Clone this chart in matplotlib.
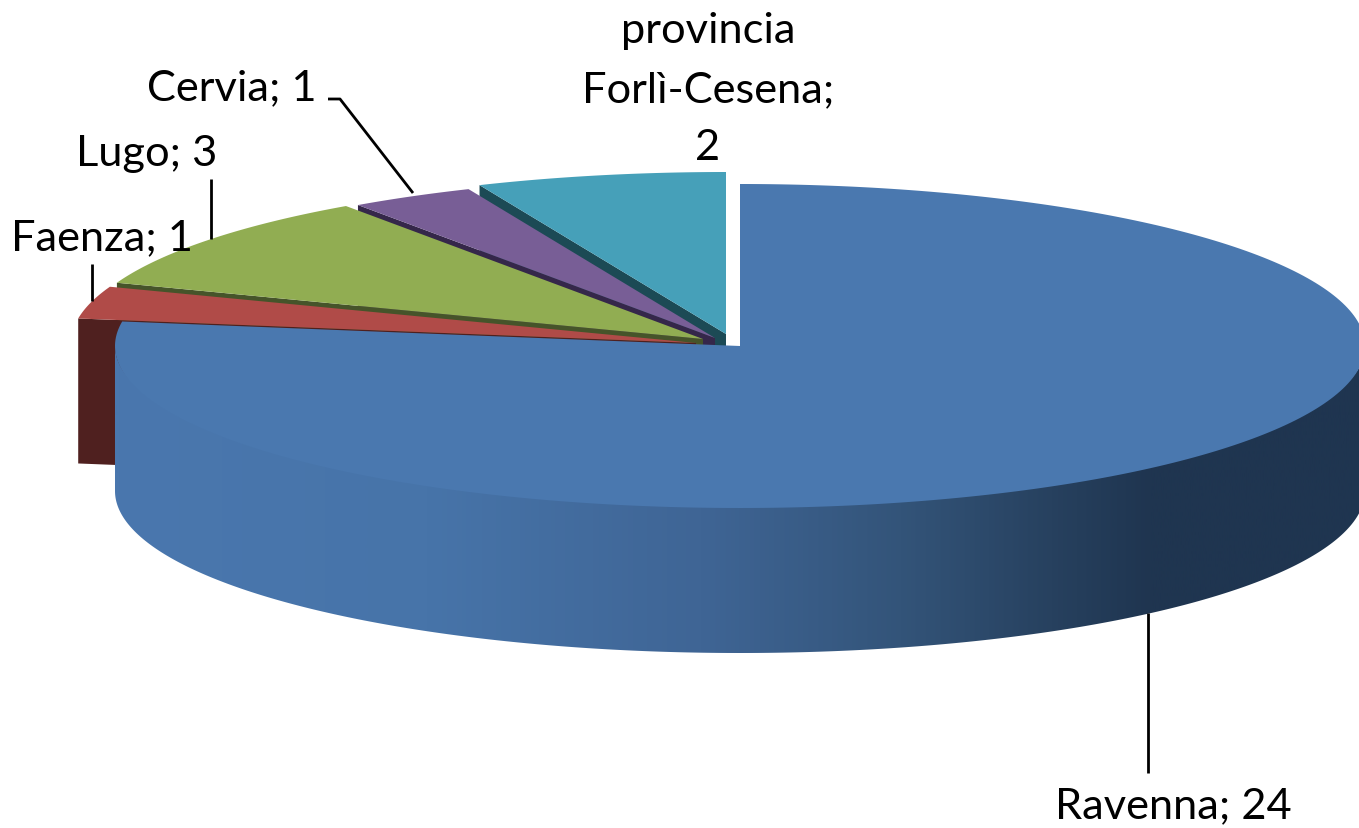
# encoding: utf-8

import numpy as np
import matplotlib
matplotlib.use('Agg')
import matplotlib.pyplot as plt
from matplotlib.colors import LinearSegmentedColormap
from matplotlib.patches import Polygon

categories = ['Ravenna', 'Faenza', 'Lugo', 'Cervia', 'provincia\nForlì-Cesena;\n']
values = [24, 1, 3, 1, 2]

top_colors = ['#4A78AF', '#B04B48', '#91AD52', '#785E96', '#46A0B9']
wall_colors = ['#1F3550', '#4F201F', '#46542A', '#35274A', '#1C4A55']

# slice tips, in pixels, the pie is drawn by hand because matplotlib has no 3d pie
centers = [(740, 347), (696, 344), (703, 340), (715, 339), (726, 335)]
RX, RY, DEPTH = 625, 162, 145

plt.rcParams['font.family'] = ['Lato', 'DejaVu Sans']


def ellipse_points(center, start, end, ry=RY):
    """
    Points of the pie rim, angles are degrees clockwise from 12 o'clock
    :param center:
    :param start:
    :param end:
    :param ry:
    :return:
    """
    t = np.radians(np.linspace(start, end, 300))
    return np.column_stack((center[0] + RX * np.sin(t), center[1] - ry * np.cos(t)))


def draw_slice(ax, center, start, end, top_color, wall_color):
    """
    Draw the cut wall and the top of one exploded slice
    :param ax:
    :param center:
    :param start:
    :param end:
    :param top_color:
    :param wall_color:
    :return:
    """
    rim = ellipse_points(center, start, end)
    wall = np.array([rim[0], center, (center[0], center[1] + DEPTH), (rim[0][0], rim[0][1] + DEPTH)])
    ax.add_patch(Polygon(wall, closed=True, fc=wall_color, ec='none'))
    ax.add_patch(Polygon(np.vstack((rim, [center])), closed=True, fc=top_color, ec='none'))


def draw_main_slice(ax, center, start, end, top_color):
    """
    Big slice, its outer wall has a horizontal gradient
    :param ax:
    :param center:
    :param start:
    :param end:
    :param top_color:
    :return:
    """
    front = ellipse_points(center, 90, 270)
    # upper side of the wall runs a bit under the top, otherwise a seam shows
    upper = ellipse_points(center, 90, 270, ry=RY - 6)
    wall = np.vstack((upper, front[::-1] + (0, DEPTH)))
    patch = Polygon(wall, closed=True, fc='none', ec='none')
    ax.add_patch(patch)
    shade = LinearSegmentedColormap.from_list('shade', [
        (0.0, '#4A77AE'), (0.25, '#4774A9'), (0.47, '#3F6595'),
        (0.63, '#335479'), (0.75, '#27415F'), (0.83, '#1F3550'), (1.0, '#1F3550')])
    img = ax.imshow(np.linspace(0, 1, 512).reshape(1, -1), cmap=shade, aspect='auto',
                    extent=(center[0] - RX, center[0] + RX, 829, 0), zorder=1)
    img.set_clip_path(patch)
    rim = ellipse_points(center, start, end)
    ax.add_patch(Polygon(np.vstack((rim, [center])), closed=True, fc=top_color, ec='none', zorder=2))


fig = plt.figure(figsize=(13.59, 8.29), dpi=100)
ax = fig.add_axes([0, 0, 1, 1])

edges = np.concatenate(([0], np.cumsum(values))) * 360.0 / sum(values)

# back to front, so every slice hides most of the wall of the one behind it
for i in range(len(values) - 1, 0, -1):
    draw_slice(ax, centers[i], edges[i], edges[i + 1], top_colors[i], wall_colors[i])
draw_main_slice(ax, centers[0], edges[0], edges[1], top_colors[0])

# leader lines
leader = dict(color='black', lw=2, zorder=3, solid_capstyle='butt')
ax.plot([1148, 1148], [614, 774], **leader)
ax.plot([92, 92], [265, 302], **leader)
ax.plot([211, 211], [180, 240], **leader)
ax.plot([328, 340, 413], [100, 100, 194], **leader)

label_size = 31.2
ax.text(1173, 806, '%s; %d' % (categories[0], values[0]), fontsize=label_size, ha='center', va='center')
ax.text(102, 238, '%s; %d' % (categories[1], values[1]), fontsize=label_size, ha='center', va='center')
ax.text(147, 154, '%s; %d' % (categories[2], values[2]), fontsize=label_size, ha='center', va='center')
ax.text(232, 88, '%s; %d' % (categories[3], values[3]), fontsize=label_size, ha='center', va='center')
province = categories[4].strip().split('\n') + [str(values[4])]
for line, y in zip(province, [31, 90, 148]):
    ax.text(708, y, line, fontsize=label_size, ha='center', va='center')

ax.set_xlim(0, 1359)
ax.set_ylim(829, 0)
ax.axis('off')
plt.savefig('out.png', dpi=100)
